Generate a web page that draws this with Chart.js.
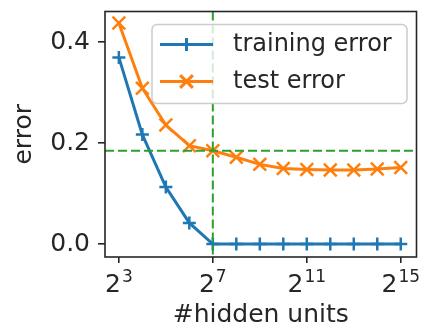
<!DOCTYPE html>
<html>
<head>
<meta charset="utf-8">
<script src="https://cdn.jsdelivr.net/npm/chart.js@4.4.1/dist/chart.umd.min.js"></script>
<style>
  html, body { margin: 0; padding: 0; background: #fff; }
</style>
</head>
<body>
<canvas id="errChart" width="428" height="332"></canvas>
<script>
// hidden units as powers of two (log2 of the count)
const exponents = [3, 4, 5, 6, 7, 8, 9, 10, 11, 12, 13, 14, 15];
const trainingError = [0.370, 0.217, 0.113, 0.042, 0.0, 0.0, 0.0, 0.0, 0.0, 0.0, 0.0, 0.0, 0.0];
const testError = [0.438, 0.309, 0.236, 0.195, 0.185, 0.172, 0.158, 0.150, 0.148, 0.147, 0.147, 0.149, 0.152];
const xTickExps = [3, 7, 11, 15];
const yTickValues = [0.0, 0.2, 0.4];
// chosen model size, marked with dashed guides
const chosenExp = 7;
const chosenError = 0.185;

const FONT = 'DejaVu Sans';
const INK = '#262626';

function toPoints(ys) {
  return exponents.map((e, i) => ({ x: e, y: ys[i] }));
}

// keep the plot box where we put it: no extra room for overhanging labels
function noOverhang(s) {
  s.paddingTop = 0;
  s.paddingBottom = 0;
  s.paddingLeft = 0;
  s.paddingRight = 0;
}

const decorations = {
  id: 'decorations',
  afterDatasetsDraw(chart) {
    const { ctx, chartArea: a, scales: { x, y } } = chart;
    ctx.save();

    // dashed guides
    ctx.strokeStyle = '#2ca02c';
    ctx.lineWidth = 2;
    ctx.setLineDash([9, 4]);
    const gy = y.getPixelForValue(chosenError);
    const gx = x.getPixelForValue(chosenExp);
    ctx.beginPath();
    ctx.moveTo(a.left, gy); ctx.lineTo(a.right, gy);
    ctx.moveTo(gx, a.top); ctx.lineTo(gx, a.bottom);
    ctx.stroke();
    ctx.setLineDash([]);

    // axes frame
    ctx.strokeStyle = INK;
    ctx.lineWidth = 1.6;
    ctx.strokeRect(a.left, a.top, a.right - a.left, a.bottom - a.top);

    // x tick labels as 2^n
    ctx.fillStyle = INK;
    ctx.textBaseline = 'alphabetic';
    ctx.textAlign = 'left';
    xTickExps.forEach(e => {
      const px = x.getPixelForValue(e);
      ctx.font = `25px "${FONT}"`;
      const wb = ctx.measureText('2').width;
      ctx.font = `17px "${FONT}"`;
      const ws = ctx.measureText(String(e)).width;
      const left = px - (wb + ws + 1) / 2;
      ctx.font = `25px "${FONT}"`;
      ctx.fillText('2', left, a.bottom + 35);
      ctx.font = `17px "${FONT}"`;
      ctx.fillText(String(e), left + wb + 1, a.bottom + 25);
    });

    // legend box
    const bx = a.left + 47, by = a.top + 13, bw = 255, bh = 79;
    ctx.beginPath();
    ctx.roundRect(bx, by, bw, bh, 5);
    ctx.fillStyle = 'rgba(255,255,255,0.8)';
    ctx.fill();
    ctx.strokeStyle = '#cccccc';
    ctx.lineWidth = 1.5;
    ctx.stroke();

    chart.data.datasets.forEach((ds, i) => {
      const cy = by + 20 + i * 37;
      ctx.strokeStyle = ds.borderColor;
      ctx.lineWidth = ds.borderWidth;
      ctx.beginPath();
      ctx.moveTo(bx + 8, cy); ctx.lineTo(bx + 61, cy);
      ctx.stroke();
      Chart.helpers.drawPoint(ctx, {
        pointStyle: ds.pointStyle, radius: ds.pointRadius,
        borderWidth: ds.pointBorderWidth, rotation: 0
      }, bx + 34.5, cy);
      ctx.fillStyle = INK;
      ctx.font = `24px "${FONT}"`;
      ctx.textBaseline = 'middle';
      ctx.fillText(ds.label, bx + 81, cy);
    });

    ctx.restore();
  }
};

const ctx = document.getElementById('errChart').getContext('2d');
const errChart = new Chart(ctx, {
  type: 'line',
  data: {
    datasets: [
      {
        label: 'training error',
        data: toPoints(trainingError),
        borderColor: '#1f77b4',
        backgroundColor: '#1f77b4',
        borderWidth: 3,
        pointStyle: 'cross',
        pointRadius: 6.5,
        pointBorderWidth: 2.5,
        order: 1
      },
      {
        label: 'test error',
        data: toPoints(testError),
        borderColor: '#ff7f0e',
        backgroundColor: '#ff7f0e',
        borderWidth: 3,
        pointStyle: 'crossRot',
        pointRadius: 9,
        pointBorderWidth: 2.5,
        order: 0
      }
    ]
  },
  options: {
    responsive: false,
    animation: false,
    devicePixelRatio: 1,
    layout: { padding: { top: 10, right: 6, bottom: 0, left: 0 } },
    elements: { line: { tension: 0, fill: false } },
    plugins: { legend: { display: false }, tooltip: { enabled: false } },
    scales: {
      x: {
        type: 'linear',
        min: 2.41,
        max: 15.67,
        afterBuildTicks: s => { s.ticks = xTickExps.map(v => ({ value: v })); },
        afterFit: s => { s.height = 75; noOverhang(s); },
        grid: { display: true, drawOnChartArea: false, drawTicks: true, tickLength: 6, color: INK, lineWidth: 1.6 },
        border: { display: false },
        ticks: { display: false },
        title: {
          display: true,
          text: '#hidden units',
          color: INK,
          font: { family: FONT, size: 25 },
          padding: { top: 0, bottom: 2 }
        }
      },
      y: {
        min: -0.0256,
        max: 0.461,
        afterBuildTicks: s => { s.ticks = yTickValues.map(v => ({ value: v })); },
        afterFit: s => { s.width = 105; noOverhang(s); },
        grid: { display: true, drawOnChartArea: false, drawTicks: true, tickLength: 7, color: INK, lineWidth: 1.6 },
        border: { display: false },
        ticks: {
          color: INK,
          font: { family: FONT, size: 25 },
          padding: 8,
          callback: v => v.toFixed(1)
        },
        title: {
          display: true,
          text: 'error',
          color: INK,
          font: { family: FONT, size: 25 },
          padding: { top: 9, bottom: 0 }
        }
      }
    }
  },
  plugins: [decorations]
});
</script>
</body>
</html>
